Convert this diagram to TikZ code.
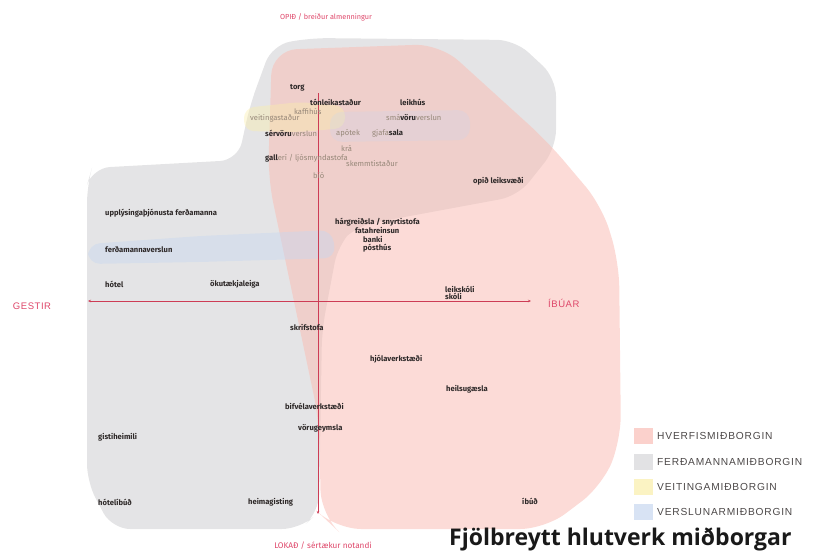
\documentclass[tikz,border=0pt]{standalone}
\usepackage{fontspec}
\setmainfont{Fira Sans}
\newfontfamily\legendfont[LetterSpace=8]{Liberation Sans}
\newfontfamily\axisfont[LetterSpace=6]{Liberation Sans}
\newfontfamily\titlefont{Open Sans}
\usetikzlibrary{arrows.meta}

\definecolor{hverfi}{RGB}{249,190,182}
\definecolor{ferda}{RGB}{214,214,216}
\definecolor{veiting}{RGB}{250,238,170}
\definecolor{verslun}{RGB}{200,215,240}
\definecolor{axisred}{RGB}{205,60,85}
\definecolor{labelred}{RGB}{222,70,105}
\definecolor{darktext}{RGB}{45,40,40}
\definecolor{lighttext}{RGB}{150,135,120}

\begin{document}
\begin{tikzpicture}[x=1pt,y=-1pt,
  place/.style={font=\fontsize{7.6}{8}\selectfont\bfseries, text=darktext, inner sep=0pt, anchor=west},
  faint/.style={place, text=lighttext, font=\fontsize{7.6}{8}\selectfont},
  axislabel/.style={font=\axisfont\fontsize{9.5}{10}\selectfont, text=labelred, inner sep=0pt},
  endlabel/.style={text=labelred, inner sep=0pt},
  legendbox/.style={minimum width=19pt, minimum height=16pt, inner sep=0pt, fill opacity=0.7},
  legendtext/.style={font=\legendfont\fontsize{10.2}{11}\selectfont, text=darktext!85, inner sep=0pt, anchor=west}]
\useasboundingbox (0,0) rectangle (817,555);

% areas
\fill[ferda, fill opacity=0.65, rounded corners=18pt]
(92,168) -- (238,160) -- (250,105) -- (272,45) -- (310,38) -- (515,40) -- (556,78)
-- (556,148) -- (518,196) -- (356,226) -- (338,245) -- (322,330) -- (319,512)
-- (300,529) -- (112,529) -- (87,482) -- (87,185) -- cycle;

\fill[hverfi, fill opacity=0.55, rounded corners=25pt]
(272,50) -- (440,44) -- (548,142) -- (602,206) -- (619,262) -- (621,440)
-- (602,486) -- (545,529) -- (336,529) -- (321,515) -- (319,420) -- (268,178) -- cycle;

\fill[veiting, fill opacity=0.4, rounded corners=10pt]
(244,108) -- (300,102) -- (345,106) -- (345,128) -- (300,132) -- (244,131) -- cycle;

\fill[verslun, fill opacity=0.45, rounded corners=12pt]
(88,244) -- (200,236) -- (332,230) -- (336,258) -- (200,262) -- (88,264) -- cycle;
\fill[verslun, fill opacity=0.25, rounded corners=12pt]
(330,112) -- (470,110) -- (470,140) -- (330,142) -- cycle;

% axes
\coordinate (top) at (318,93);
\coordinate (bottom) at (318,514);
\coordinate (left) at (88,301);
\coordinate (right) at (531,301);
\draw[axisred, line width=0.8pt, -{Stealth[length=3pt,width=2.5pt]}] (top) -- (bottom);
\draw[axisred, line width=0.8pt, {Stealth[length=3pt,width=2.5pt]}-{Stealth[length=3pt,width=2.5pt]}] (left) -- (right);

\node[endlabel, font=\fontsize{7.3}{8}\selectfont] (opid) at (326,17) {OPIÐ / breiður almenningur};
\node[endlabel, font=\fontsize{8.2}{9}\selectfont] (lokad) at (323,546) {LOKAÐ / sértækur notandi};
\node[axislabel] (gestir) at (32,306) {GESTIR};
\node[axislabel, anchor=west] (ibuar) at (548,303) {ÍBÚAR};

% places
\node[place] (torg) at (290,88) {torg};
\node[place] (tonleika) at (310,102) {tónleikastaður};
\node[place] (leikhus) at (400,102) {leikhús};
\node[faint] (kaffihus) at (294,111) {kaffihús};
\node[faint] (veitinga) at (250,118) {veitingastaður};
\node[place] (smavoru) at (386,118) {{\color{lighttext}\mdseries smá}vöru{\color{lighttext}\mdseries verslun}};
\node[place] (servoru) at (265,133) {sérvöru{\color{lighttext}\mdseries verslun}};
\node[faint] (apotek) at (336,133) {apótek};
\node[place] (gjafa) at (372,133) {{\color{lighttext}\mdseries gjafa}sala};
\node[faint] (kra) at (341,148) {krá};
\node[place] (galleri) at (265,158) {gall{\color{lighttext}\mdseries erí / ljósmyndastofa}};
\node[faint] (skemmti) at (346,164) {skemmtistaður};
\node[faint] (bio) at (313,175) {bíó};
\node[place] (leiksvaedi) at (473,181) {opið leiksvæði};
\node[place] (upplys) at (105,213) {upplýsingaþjónusta ferðamanna};
\node[place] (ferdaversl) at (105,250) {ferðamannaverslun};
\node[place] (hotel) at (105,284) {hótel};
\node[place] (okutaeki) at (210,284) {ökutækjaleiga};
\node[place] (hargreidsla) at (335,222) {hárgreiðsla / snyrtistofa};
\node[place] (fatahreinsun) at (355,230) {fatahreinsun};
\node[place] (banki) at (363,239) {banki};
\node[place] (posthus) at (363,248) {pósthús};
\node[place] (leikskoli) at (445,289) {leikskóli};
\node[place] (skoli) at (445,296) {skóli};
\node[place] (skrifstofa) at (290,327) {skrifstofa};
\node[place] (hjola) at (370,359) {hjólaverkstæði};
\node[place] (heilsa) at (446,389) {heilsugæsla};
\node[place] (bifvela) at (285,406) {bifvélaverkstæði};
\node[place] (voru) at (298,428) {vörugeymsla};
\node[place] (gisti) at (98,437) {gistiheimili};
\node[place] (hotelibud) at (98,502) {hótelíbúð};
\node[place] (heima) at (248,502) {heimagisting};
\node[place] (ibud) at (522,501) {íbúð};

% legend
\node[legendbox, fill=hverfi] (lh) at (643,436) {};
\node[legendbox, fill=ferda] (lf) at (643,462) {};
\node[legendbox, fill=veiting] (lv) at (643,487) {};
\node[legendbox, fill=verslun] (ls) at (643,512) {};
\node[legendtext] (th) at (657,436) {HVERFISMIÐBORGIN};
\node[legendtext] (tf) at (657,462) {FERÐAMANNAMIÐBORGIN};
\node[legendtext] (tv) at (657,487) {VEITINGAMIÐBORGIN};
\node[legendtext] (ts) at (657,512) {VERSLUNARMIÐBORGIN};

\node[font=\titlefont\bfseries\fontsize{23}{26}\selectfont, text=black!90, inner sep=0pt, anchor=west] (title) at (449,539) {Fjölbreytt hlutverk miðborgar};
\end{tikzpicture}
\end{document}
